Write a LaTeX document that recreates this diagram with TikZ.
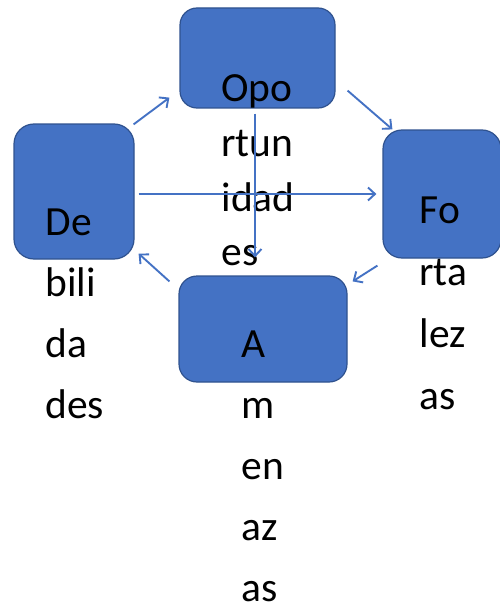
\documentclass[tikz,border=0pt]{standalone}
\usepackage{fontspec}
\setmainfont{Carlito}
\usetikzlibrary{arrows.meta,calc}
\definecolor{boxfill}{HTML}{4472C4}
\definecolor{boxline}{HTML}{2F528F}
\definecolor{arrowcol}{HTML}{4472C4}
\tikzset{
  swotbox/.style={draw=boxline, line width=1.2pt, fill=boxfill, rectangle, inner sep=0pt},
  swottext/.style={inner sep=0pt, outer sep=0pt, anchor=base west, text width=90pt, align=left, text=black},
  link/.style={draw=arrowcol, line width=1.9pt, -{Straight Barb[length=7pt,width=13pt,line width=1.9pt]}}
}
\begin{document}
\begin{tikzpicture}[x=1pt,y=1pt]
\useasboundingbox (0,0) rectangle (500,-607);
% boxes
\node[swotbox, rounded corners=17pt, minimum width=155pt, minimum height=100pt] (T) at (257.5,-58) {};
\node[swotbox, rounded corners=20pt, minimum width=120pt, minimum height=135pt] (L) at (74,-191.5) {};
\node[swotbox, rounded corners=19pt, minimum width=118pt, minimum height=128pt] (R) at (442,-194) {};
\node[swotbox, rounded corners=18pt, minimum width=168pt, minimum height=106pt] (B) at (263,-329) {};
% texts
\node[swottext, font=\fontsize{41.5}{54.5}\selectfont] (tT) at (221.5,-102) {Opo\\rtun\\idad\\es};
\node[swottext, font=\fontsize{41.5}{61}\selectfont] (tL) at (45.5,-235) {De\\bili\\da\\des};
\node[swottext, font=\fontsize{41.5}{62}\selectfont] (tR) at (419.5,-223) {Fo\\rta\\lez\\as};
\node[swottext, font=\fontsize{41.5}{61}\selectfont] (tB) at (241.5,-357) {A\\m\\en\\az\\as};
% connectors
\draw[link] ($(L.north east)+(-1,-1)$) -- ($(T.south west)+(-10,11)$);
\draw[link] ($(T.south east)+(12,18)$) -- ($(R.north west)+(10,0)$);
\draw[link] ($(R.south west)+(-5,-7)$) -- ($(B.north east)+(5,-6)$);
\draw[link] ($(B.north west)+(-9,-6)$) -- ($(L.south east)+(4,6)$);
\draw[link] ($(L.east)+(4,-2.5)$) -- ($(R.west)+(-6,0)$);
\draw[link] ($(T.south)+(-2.5,-5)$) -- ($(B.north)+(-8,18)$);
\end{tikzpicture}
\end{document}
